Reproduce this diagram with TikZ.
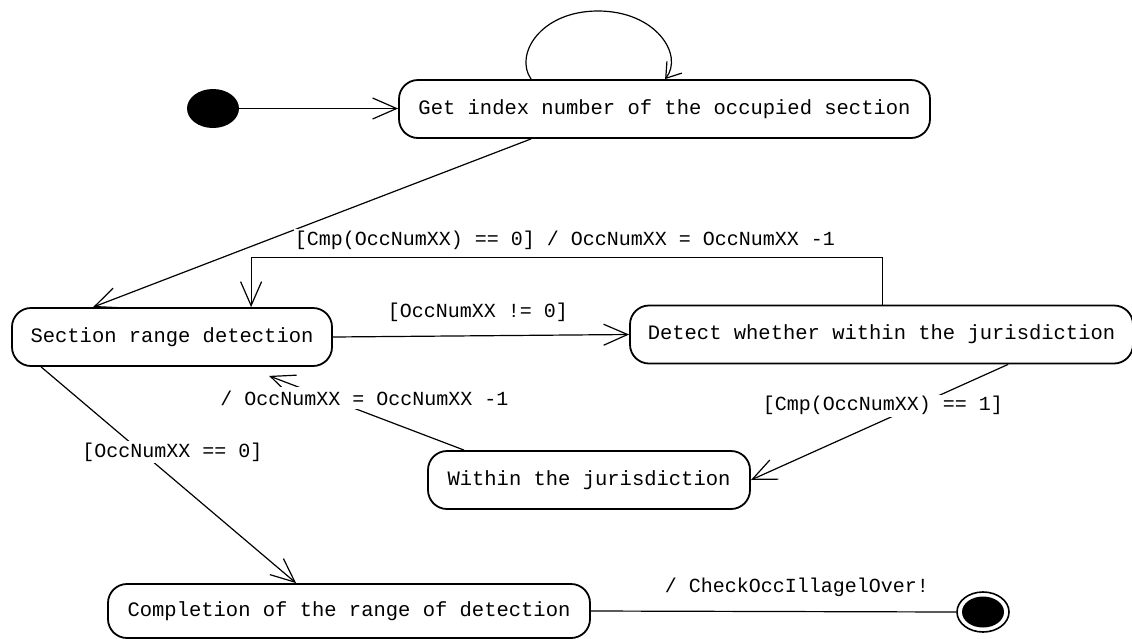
\documentclass[tikz,border=0pt]{standalone}
\usepackage{fontspec}
\newfontfamily\monof{Liberation Mono}
\usetikzlibrary{arrows.meta,shapes.geometric}
\tikzset{
  statebox/.style={draw, line width=1.8pt, rounded corners=19pt, minimum height=58pt, inner sep=0pt,
    font=\monof\fontsize{20.5}{24}\selectfont},
  lbl/.style={fill=white, inner xsep=1pt, inner ysep=0pt, minimum height=22pt,
    font=\monof\fontsize{20}{24}\selectfont},
  conn/.style={line width=1.2pt},
  arr/.style={conn, -{Straight Barb[length=24pt,width=21pt,line width=1.2pt]}},
  arrsmall/.style={conn, -{Straight Barb[length=14pt,width=19pt,line width=1.2pt]}},
}
\begin{document}
\begin{tikzpicture}[x=1pt,y=-1pt]
\useasboundingbox (0,0) rectangle (1132,638);
% states
\node[statebox, minimum width=531pt] (get) at (664.5,109) {Get index number of the occupied section};
\node[statebox, minimum width=320pt] (sec) at (172,337) {Section range detection};
\node[statebox, minimum width=503pt] (det) at (881.5,334.5) {Detect whether within the jurisdiction};
\node[statebox, minimum width=322pt] (within) at (589,480) {Within the jurisdiction};
\node[statebox, minimum width=482pt, minimum height=54pt] (comp) at (349,611) {Completion of the range of detection};
\node[ellipse, fill=black, minimum width=52pt, minimum height=39pt, inner sep=0pt] (init) at (213,108.5) {};
\node[ellipse, draw, line width=1.6pt, fill=white, minimum width=52pt, minimum height=40pt, inner sep=0pt,
  path picture={\fill[black] (path picture bounding box.center) ellipse (21pt and 15.5pt);}] (fin) at (983,612) {};
% connectors
\draw[arr] (init.east) -- (init.east -| get.west);
\draw[arrsmall] ([xshift=133pt]get.north west) .. controls (514,55) and (540,11) .. (598,11)
   .. controls (656,11) and (684,55) .. ([xshift=267pt]get.north west);
\draw[arr] ([xshift=133pt]get.south west) -- ([xshift=82pt]sec.north west);
\draw[arr] ([xshift=253pt]det.north west) -- ++(0,-47) -| ([xshift=240pt]sec.north west);
\draw[arr] (sec.east) -- (det.west);
\draw[arr] ([xshift=379pt]det.south west) -- (within.east);
\coordinate (backend) at ([xshift=258pt,yshift=-9pt]sec.south west);
\draw[arr] ([xshift=37pt]within.north west) -- (backend);
\draw[arr] ([xshift=30pt]sec.south west) -- ([xshift=189pt]comp.north west);
\draw[conn] (comp.east) -- (fin.west);
% labels
\node[lbl] (l1) at (565,240) {[Cmp(OccNumXX) == 0] / OccNumXX = OccNumXX -1};
\node[lbl] (l2) at (478,312) {[OccNumXX != 0]};
\node[lbl] (l3) at (883,405.5) {[Cmp(OccNumXX) == 1]};
\node[lbl] (l4) at (364.5,398) {/ OccNumXX = OccNumXX -1};
\node[lbl] (l5) at (172.5,452) {[OccNumXX == 0]};
\node[lbl] (l6) at (797,587) {/ CheckOccIllagelOver!};
\end{tikzpicture}
\end{document}
